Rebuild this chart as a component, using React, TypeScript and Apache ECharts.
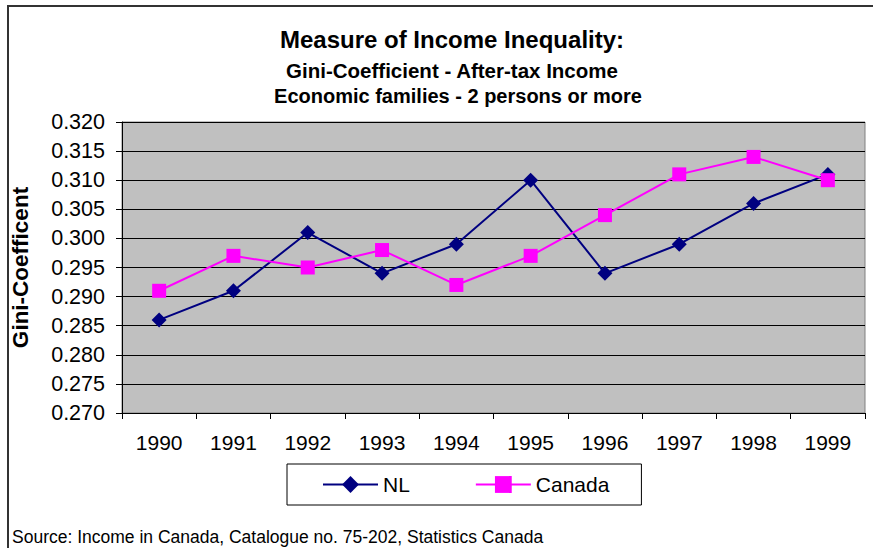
import React, { useEffect, useRef } from "react";
import * as echarts from "echarts";

const years = ["1990", "1991", "1992", "1993", "1994", "1995", "1996", "1997", "1998", "1999"];
const nlValues = [0.286, 0.291, 0.301, 0.294, 0.299, 0.31, 0.294, 0.299, 0.306, 0.311];
const canadaValues = [0.291, 0.297, 0.295, 0.298, 0.292, 0.297, 0.304, 0.311, 0.314, 0.31];
const titleLines = [
  "Measure of Income Inequality:",
  "Gini-Coefficient - After-tax Income",
  "Economic families - 2 persons or more",
];
const yAxisName = "Gini-Coefficent";
const sourceText = "Source: Income in Canada, Catalogue no. 75-202, Statistics Canada";

const FONT = "Arial, 'Liberation Sans', sans-serif";

export default function App() {
  const ref = useRef<HTMLDivElement>(null);
  useEffect(() => {
    if (!ref.current) return;
    const chart = echarts.init(ref.current, undefined, { renderer: "svg" });
    chart.setOption({
      animation: false,
      backgroundColor: "#ffffff",
      textStyle: { fontFamily: FONT },
      title: [
        {
          text: titleLines[0],
          left: 447,
          top: 22,
          textAlign: "center",
          textStyle: { fontFamily: FONT, fontSize: 24, fontWeight: "bold", color: "#000" },
        },
        {
          text: titleLines[1],
          left: 447,
          top: 55,
          textAlign: "center",
          textStyle: { fontFamily: FONT, fontSize: 20.5, fontWeight: "bold", color: "#000" },
        },
        {
          text: titleLines[2],
          left: 453,
          top: 81,
          textAlign: "center",
          textStyle: { fontFamily: FONT, fontSize: 20, fontWeight: "bold", color: "#000" },
        },
      ],
      graphic: [
        {
          type: "rect",
          shape: { x: 8, y: 6, width: 900, height: 600 },
          style: { fill: "none", stroke: "#333", lineWidth: 2 },
          silent: true,
        },
        {
          type: "text",
          left: 12,
          top: 528,
          style: { text: sourceText, font: `17.5px ${FONT}`, fill: "#000" },
        },
      ],
      legend: {
        left: 287,
        top: 464,
        padding: [10, 32, 10, 35],
        itemWidth: 55,
        itemHeight: 21,
        itemGap: 65,
        borderColor: "#000",
        borderWidth: 1,
        textStyle: { fontFamily: FONT, fontSize: 21, color: "#000" },
        data: ["NL", "Canada"],
      },
      grid: {
        left: 122,
        top: 122,
        right: 8,
        height: 291,
        show: true,
        backgroundColor: "#C0C0C0",
        borderColor: "#808080",
        borderWidth: 1,
      },
      xAxis: {
        type: "category",
        data: years,
        boundaryGap: true,
        axisLine: { lineStyle: { color: "#000", width: 1 } },
        axisTick: { show: true, length: 6, lineStyle: { color: "#000" } },
        axisLabel: { fontFamily: FONT, fontSize: 21, color: "#000", margin: 19 },
        splitLine: { show: false },
      },
      yAxis: {
        type: "value",
        min: 0.27,
        max: 0.32,
        interval: 0.005,
        name: yAxisName,
        nameLocation: "middle",
        nameGap: 90,
        nameTextStyle: { fontFamily: FONT, fontSize: 22.5, fontWeight: "bold", color: "#000" },
        axisLine: { show: true, lineStyle: { color: "#000", width: 1 } },
        axisTick: { show: true, length: 6, lineStyle: { color: "#000" } },
        axisLabel: {
          fontFamily: FONT,
          fontSize: 21.5,
          color: "#000",
          margin: 17,
          formatter: (v: number) => v.toFixed(3),
        },
        splitLine: { show: true, lineStyle: { color: "#000", width: 1 } },
      },
      series: [
        {
          name: "NL",
          type: "line",
          data: nlValues,
          symbol: "diamond",
          symbolSize: 15,
          lineStyle: { color: "#000080", width: 2 },
          itemStyle: { color: "#000080" },
          z: 3,
        },
        {
          name: "Canada",
          type: "line",
          data: canadaValues,
          symbol: "rect",
          symbolSize: 14,
          lineStyle: { color: "#FF00FF", width: 2 },
          itemStyle: { color: "#FF00FF" },
          z: 4,
        },
      ],
    });
    return () => chart.dispose();
  }, []);
  return (
    <div
      ref={ref}
      style={{ position: "fixed", left: 0, top: 0, width: 873, height: 548 }}
    />
  );
}
